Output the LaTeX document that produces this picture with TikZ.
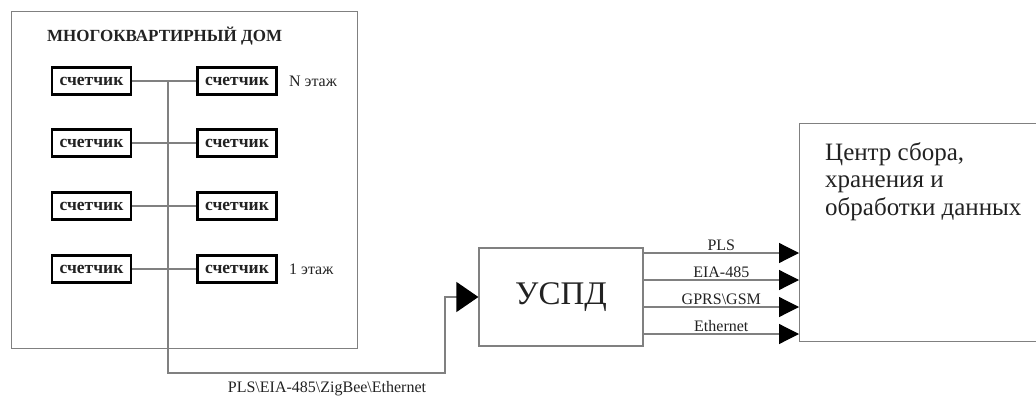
\documentclass[tikz,border=0pt]{standalone}
\usepackage{fontspec}
\setmainfont{Liberation Serif}
\usetikzlibrary{arrows.meta,positioning}
\definecolor{wire}{HTML}{808080}
\definecolor{ink}{HTML}{222222}

\tikzset{
  meter/.style={draw=black,line width=2.2pt,minimum width=79pt,minimum height=27pt,inner sep=0pt,
    font=\fontsize{17.5}{20}\selectfont\bfseries,text=ink},
  link/.style={draw=wire,line width=1.2pt},
  block/.style={draw=wire,line width=1.2pt,inner sep=0pt},
  tip/.style={-{Triangle[length=20pt,width=20pt,color=black]}},
  bigtip/.style={-{Triangle[length=22pt,width=30pt,color=black]}},
  lbl/.style={text=ink,font=\fontsize{16}{19}\selectfont}
}

\begin{document}
\begin{tikzpicture}[x=1pt,y=-1pt]
  \useasboundingbox (0,0) rectangle (1036,396);
  \node[block,minimum width=346pt,minimum height=337pt,anchor=north west] (house) at (11,11) {};
  \node[anchor=west,inner sep=0pt,text=ink,font=\fontsize{17}{20}\selectfont\bfseries] (title) at (47,36) {МНОГОКВАРТИРНЫЙ ДОМ};
  \foreach \y/\i in {81/1,143/2,206/3,269/4} {
    \node[meter] (l\i) at (91.5,\y) {счетчик};
    \node[meter] (r\i) at (237,\y) {счетчик};
    \draw[link] (l\i) -- (r\i);
  }
  \node[lbl,right=8pt of r1] (topfloor) {N этаж};
  \node[lbl,right=8pt of r4] (firstfloor) {1 этаж};

  \node[block,minimum width=164pt,minimum height=98pt,text=ink,font=\fontsize{33}{38}\selectfont] (uspd) at (561,297) {УСПД};
  \node[block,minimum width=261pt,minimum height=218pt,anchor=north west] (centre) at (799,123) {};
  \node[anchor=north west,align=left,inner sep=0pt,text=ink,font=\fontsize{25}{27.5}\selectfont] (centretext)
    at ([xshift=26pt,yshift=-19pt]centre.north west) {Центр сбора,\\хранения и\\обработки данных};

  \coordinate (bustop) at (168,81);
  \coordinate (busend) at (168,373);
  \coordinate (bend) at (445,373);
  \draw[link,bigtip] (bustop) -- (busend) -- (bend) |- (uspd.west);
  \node[lbl] (buslabel) at (327,389) {PLS\textbackslash EIA-485\textbackslash ZigBee\textbackslash Ethernet};

  \foreach \y/\ch in {253/PLS,280/EIA-485,307/GPRS\textbackslash GSM,334/Ethernet} {
    \draw[link,tip] (uspd.east |- 0,\y) -- (centre.west |- 0,\y)
      node[lbl,midway,above,inner sep=1.5pt] {\ch};
  }
\end{tikzpicture}
\end{document}
